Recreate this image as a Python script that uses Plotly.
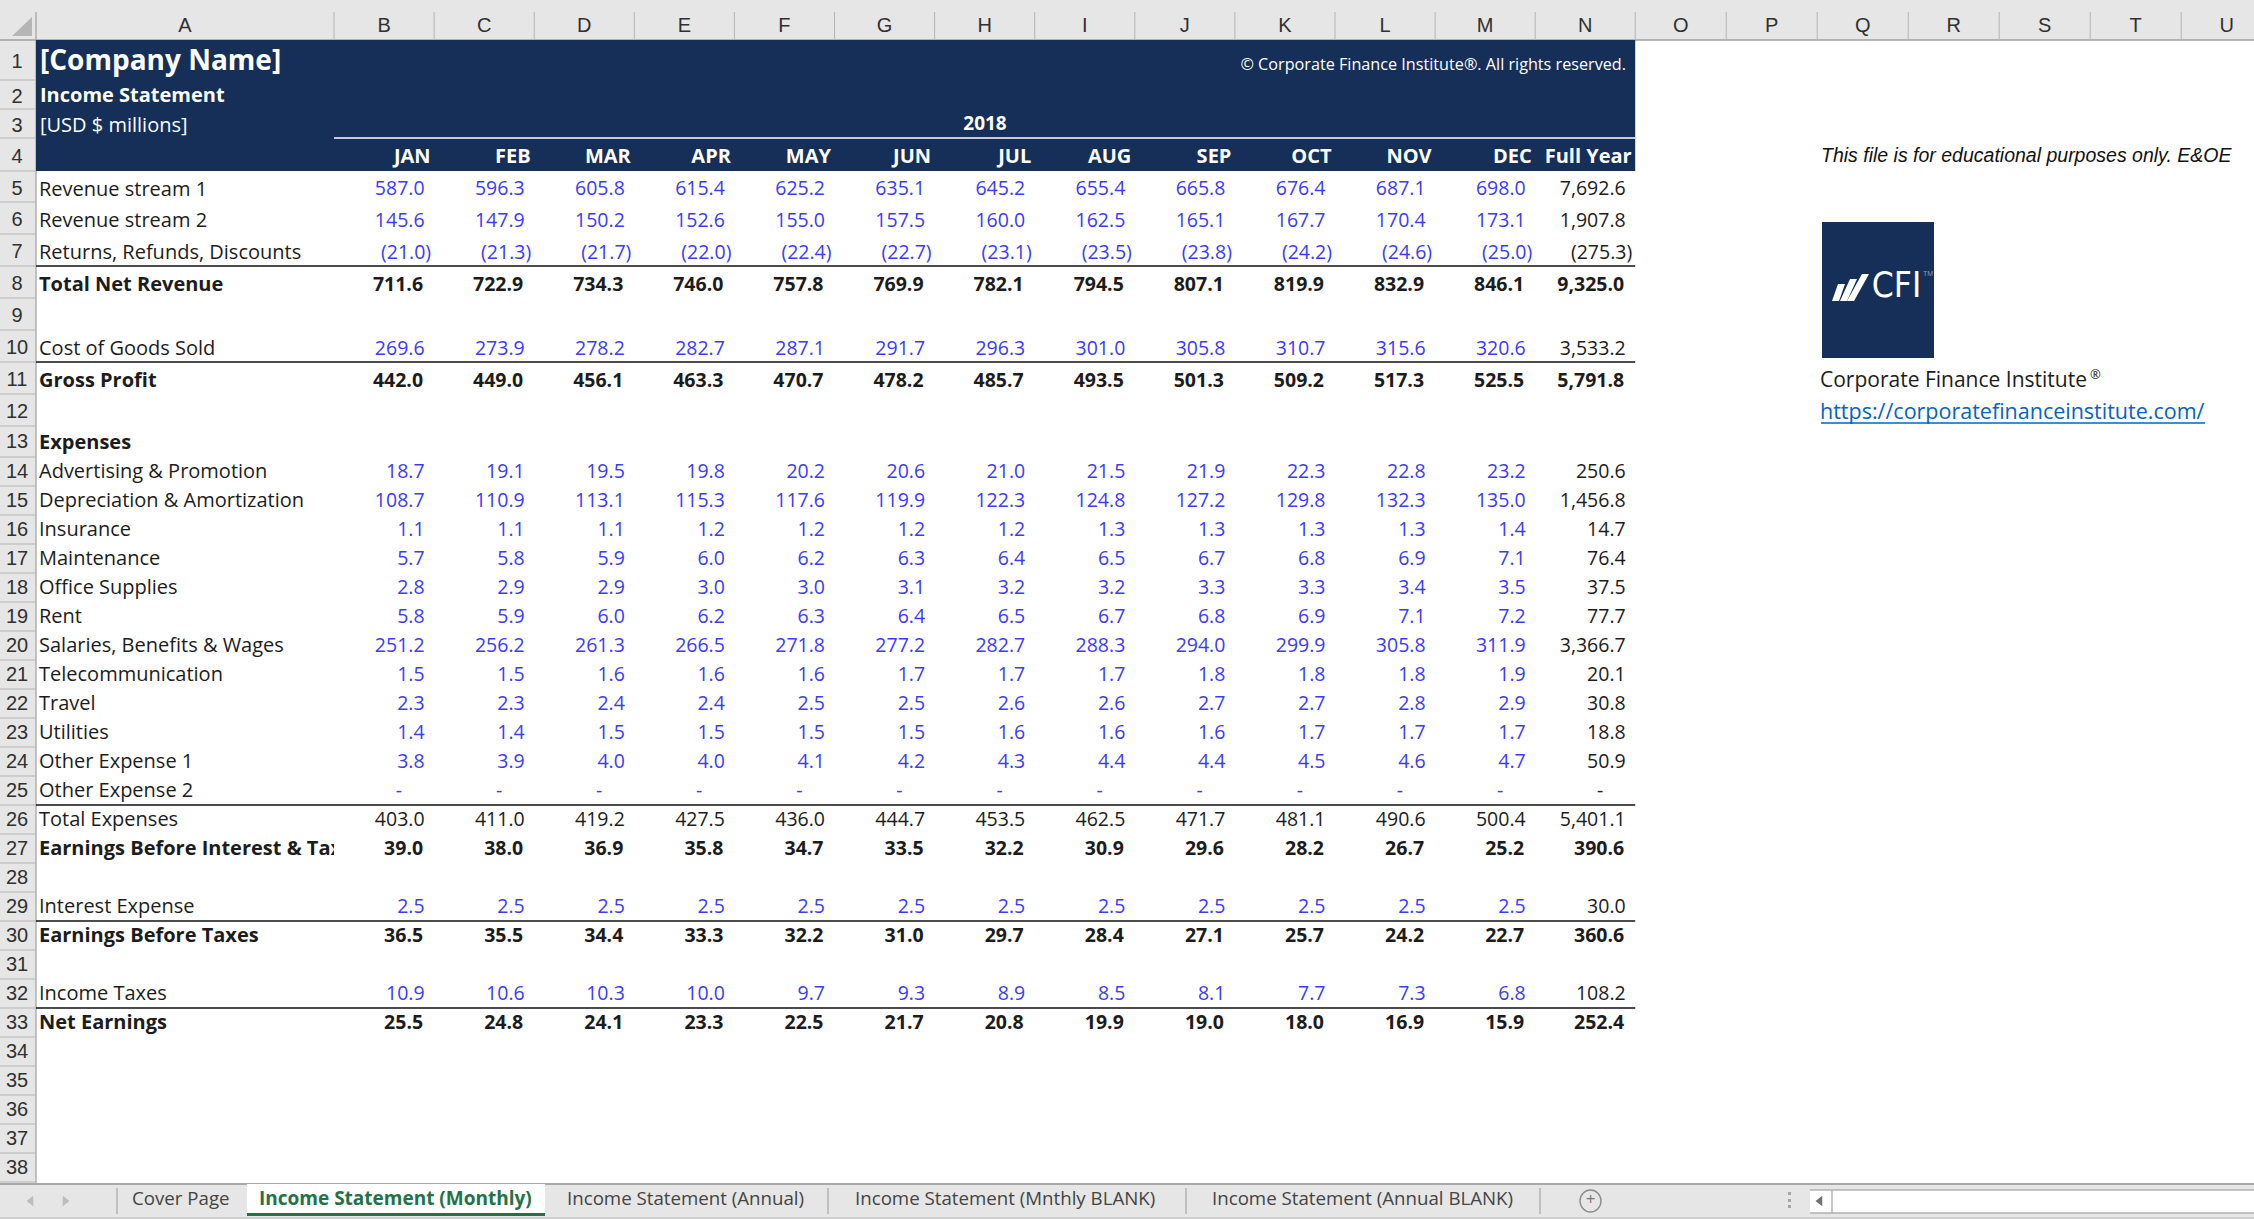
import plotly.graph_objects as go

W, H = 2254, 1219
NAVY = "#152f58"
BLUE = "#3c3cf5"
DARK = "#1c1c1c"
HEAD_GRAY = "#e6e6e6"
GRID_GRAY = "#b4b4b4"
BODY_FONT = "Open Sans"
HEAD_FONT = "Liberation Sans"

# sheet geometry, pixels
col_letters = list("ABCDEFGHIJKLMNOPQRSTU")
col_widths = [298] + [100.1] * 12 + [100] + [91] * 7
x_edges = [36]
for w in col_widths:
    x_edges.append(x_edges[-1] + w)
col_right = dict(zip(col_letters, x_edges[1:]))

row_heights = [40, 29, 29, 33, 31, 32, 32, 32, 32, 32, 32, 32, 31] + [29] * 25
y_edges = [40]
for h in row_heights:
    y_edges.append(y_edges[-1] + h)


def row_mid(n):
    return (y_edges[n - 1] + y_edges[n]) / 2


def label_y(n):
    return row_mid(n) + (4 if n < 13 else 1)


def value_y(n):
    return row_mid(n) + (4 if n < 13 else 2)


months = ["JAN", "FEB", "MAR", "APR", "MAY", "JUN", "JUL", "AUG", "SEP", "OCT", "NOV", "DEC"]

# row number, label, style, 12 months, full year
rows = [
    (5, "Revenue stream 1", "input", [587.0, 596.3, 605.8, 615.4, 625.2, 635.1, 645.2, 655.4, 665.8, 676.4, 687.1, 698.0], 7692.6),
    (6, "Revenue stream 2", "input", [145.6, 147.9, 150.2, 152.6, 155.0, 157.5, 160.0, 162.5, 165.1, 167.7, 170.4, 173.1], 1907.8),
    (7, "Returns, Refunds, Discounts", "input", [-21.0, -21.3, -21.7, -22.0, -22.4, -22.7, -23.1, -23.5, -23.8, -24.2, -24.6, -25.0], -275.3),
    (8, "Total Net Revenue", "bold", [711.6, 722.9, 734.3, 746.0, 757.8, 769.9, 782.1, 794.5, 807.1, 819.9, 832.9, 846.1], 9325.0),
    (10, "Cost of Goods Sold", "input", [269.6, 273.9, 278.2, 282.7, 287.1, 291.7, 296.3, 301.0, 305.8, 310.7, 315.6, 320.6], 3533.2),
    (11, "Gross Profit", "bold", [442.0, 449.0, 456.1, 463.3, 470.7, 478.2, 485.7, 493.5, 501.3, 509.2, 517.3, 525.5], 5791.8),
    (14, "Advertising & Promotion", "input", [18.7, 19.1, 19.5, 19.8, 20.2, 20.6, 21.0, 21.5, 21.9, 22.3, 22.8, 23.2], 250.6),
    (15, "Depreciation & Amortization", "input", [108.7, 110.9, 113.1, 115.3, 117.6, 119.9, 122.3, 124.8, 127.2, 129.8, 132.3, 135.0], 1456.8),
    (16, "Insurance", "input", [1.1, 1.1, 1.1, 1.2, 1.2, 1.2, 1.2, 1.3, 1.3, 1.3, 1.3, 1.4], 14.7),
    (17, "Maintenance", "input", [5.7, 5.8, 5.9, 6.0, 6.2, 6.3, 6.4, 6.5, 6.7, 6.8, 6.9, 7.1], 76.4),
    (18, "Office Supplies", "input", [2.8, 2.9, 2.9, 3.0, 3.0, 3.1, 3.2, 3.2, 3.3, 3.3, 3.4, 3.5], 37.5),
    (19, "Rent", "input", [5.8, 5.9, 6.0, 6.2, 6.3, 6.4, 6.5, 6.7, 6.8, 6.9, 7.1, 7.2], 77.7),
    (20, "Salaries, Benefits & Wages", "input", [251.2, 256.2, 261.3, 266.5, 271.8, 277.2, 282.7, 288.3, 294.0, 299.9, 305.8, 311.9], 3366.7),
    (21, "Telecommunication", "input", [1.5, 1.5, 1.6, 1.6, 1.6, 1.7, 1.7, 1.7, 1.8, 1.8, 1.8, 1.9], 20.1),
    (22, "Travel", "input", [2.3, 2.3, 2.4, 2.4, 2.5, 2.5, 2.6, 2.6, 2.7, 2.7, 2.8, 2.9], 30.8),
    (23, "Utilities", "input", [1.4, 1.4, 1.5, 1.5, 1.5, 1.5, 1.6, 1.6, 1.6, 1.7, 1.7, 1.7], 18.8),
    (24, "Other Expense 1", "input", [3.8, 3.9, 4.0, 4.0, 4.1, 4.2, 4.3, 4.4, 4.4, 4.5, 4.6, 4.7], 50.9),
    (25, "Other Expense 2", "input", [0] * 12, 0),
    (26, "Total Expenses", "plain", [403.0, 411.0, 419.2, 427.5, 436.0, 444.7, 453.5, 462.5, 471.7, 481.1, 490.6, 500.4], 5401.1),
    (27, "Earnings Before Interest & Taxes", "bold", [39.0, 38.0, 36.9, 35.8, 34.7, 33.5, 32.2, 30.9, 29.6, 28.2, 26.7, 25.2], 390.6),
    (29, "Interest Expense", "input", [2.5] * 12, 30.0),
    (30, "Earnings Before Taxes", "bold", [36.5, 35.5, 34.4, 33.3, 32.2, 31.0, 29.7, 28.4, 27.1, 25.7, 24.2, 22.7], 360.6),
    (32, "Income Taxes", "input", [10.9, 10.6, 10.3, 10.0, 9.7, 9.3, 8.9, 8.5, 8.1, 7.7, 7.3, 6.8], 108.2),
    (33, "Net Earnings", "bold", [25.5, 24.8, 24.1, 23.3, 22.5, 21.7, 20.8, 19.9, 19.0, 18.0, 16.9, 15.9], 252.4),
]

fig = go.Figure()


def add_text(xs, ys, texts, size, color, pos, family=BODY_FONT, weight=400, style="normal"):
    fig.add_trace(
        go.Scatter(
            x=xs,
            y=ys,
            text=texts,
            mode="text",
            textposition=pos,
            textfont=dict(size=size, color=color, family=family, weight=weight, style=style),
            hoverinfo="skip",
            showlegend=False,
        )
    )


def add_rect(x0, y0, x1, y1, color, layer="below"):
    fig.add_shape(type="rect", x0=x0, y0=y0, x1=x1, y1=y1, fillcolor=color, line_width=0, layer=layer)


def add_line(x0, y0, x1, y1, color, width=1.4):
    fig.add_shape(type="line", x0=x0, y0=y0, x1=x1, y1=y1, line=dict(color=color, width=width), layer="below")


def fmt(v):
    if v == 0:
        return "-"
    if v < 0:
        return f"({abs(v):,.1f})"
    return f"{v:,.1f}"


def cell_x(v, right, bold):
    # number format leaves a gap for the closing bracket
    if v == 0:
        return right - 32
    if v < 0:
        return right - 3
    return right - (11 if bold else 9.5)


# window chrome
add_rect(0, 0, W, 40, HEAD_GRAY)
add_rect(0, 40, 36, 1184, HEAD_GRAY)
add_rect(0, 1184, W, H, HEAD_GRAY)
add_line(0, 40, W, 40, "#a0a0a0", 1.6)
add_line(36, 12, 36, 1184, "#a0a0a0", 1.2)
add_line(0, 1184, W, 1184, "#a8a8a8", 2)
for x in x_edges[1:]:
    add_line(x, 12, x, 40, GRID_GRAY, 1)
for y in y_edges[1:]:
    add_line(0, y, 36, y, GRID_GRAY, 1.2)
fig.add_shape(type="path", path="M 32 17 L 32 36 L 12 36 Z", fillcolor="#b5b5b5", line_width=0, layer="below")

# navy banner
banner_right = col_right["N"]
add_rect(36, 40, banner_right, y_edges[4], NAVY)
add_line(x_edges[1], y_edges[3], banner_right, y_edges[3], "#ffffff", 1.6)

# total rules
for n in [7, 10, 25, 29, 32]:
    add_line(36, y_edges[n], banner_right, y_edges[n], "#111111", 1.4)

# headers
add_text(
    [(a + b) / 2 for a, b in zip(x_edges[:-1], x_edges[1:])],
    [26.5] * len(col_letters),
    col_letters,
    20,
    "#303030",
    "middle center",
    family=HEAD_FONT,
)
add_text(
    [17] * 38,
    [row_mid(n) + (3 if n < 13 else 1) for n in range(1, 39)],
    [str(n) for n in range(1, 39)],
    20,
    "#303030",
    "middle center",
    family=HEAD_FONT,
)

# banner text
add_text([40], [row_mid(1) + 3], ["[Company Name]"], 28, "#ffffff", "middle right", weight=700)
add_text([40], [row_mid(2) + 2], ["Income Statement"], 20, "#ffffff", "middle right", weight=700)
add_text([40], [row_mid(3) + 3], ["[USD $ millions]"], 20, "#ffffff", "middle right")
add_text(
    [1626],
    [66],
    ["© Corporate Finance Institute®. All rights reserved."],
    16.2,
    "#ffffff",
    "middle left",
)
add_text([985], [125.5], ["2018"], 19, "#ffffff", "middle center", weight=700)
add_text(
    [col_right[c] - 3.5 for c in col_letters[1:14]],
    [row_mid(4) + 3] * 13,
    months + ["Full Year"],
    20,
    "#ffffff",
    "middle left",
    weight=700,
)

# labels
add_text(
    [39] * len(rows),
    [label_y(r[0]) for r in rows],
    [r[1] for r in rows],
    [20] * len(rows),
    [DARK] * len(rows),
    "middle right",
    weight=[700 if r[2] == "bold" else 400 for r in rows],
)
add_text([39], [row_mid(13) + 2.5], ["Expenses"], 20, DARK, "middle right", weight=700)

# cells
for n, label, kind, vals, total in rows:
    all_vals = vals + [total]
    rights = [col_right[c] for c in col_letters[1:14]]
    xs = [cell_x(v, r, kind == "bold") for v, r in zip(all_vals, rights)]
    ys = [value_y(n)] * 13
    texts = [fmt(v) for v in all_vals]
    weight = 700 if kind == "bold" else 400
    month_color = BLUE if kind == "input" else DARK
    add_text(xs[:12], ys[:12], texts[:12], 19.5, month_color, "middle left", weight=weight)
    add_text(xs[12:], ys[12:], texts[12:], 19.5, DARK, "middle left", weight=weight)

# clip the long label at the edge of column A
add_rect(x_edges[1], y_edges[26] + 1, x_edges[1] + 45, y_edges[27] - 1, "#ffffff", layer="above")

# notes on the right
add_text([1821], [157], ["This file is for educational purposes only. E&OE"], 19.5, "#111111", "middle right", family=HEAD_FONT, style="italic")
add_rect(1822, 222, 1934, 358, NAVY)
# logo bars: bottom x, top x, top y
for bx, tx, ty in [(1832, 1838, 284), (1840, 1850, 279), (1847, 1862, 274)]:
    fig.add_shape(
        type="path",
        path=f"M {bx} 301 L {bx + 7} 301 L {tx + 7} {ty} L {tx} {ty} Z",
        fillcolor="#ffffff",
        line_width=0,
        layer="below",
    )
add_text([1896.5], [288], ["CFI"], 35, "#ffffff", "middle center", family="DejaVu Sans Condensed")
add_text([1928], [274], ["TM"], 7, "#8d9db5", "middle center", family=HEAD_FONT)
add_text([1820], [381.5], ["Corporate Finance Institute"], 21, DARK, "middle right")
add_text([2090], [376], ["®"], 13, DARK, "middle right")
add_text([1820], [414], ["https://corporatefinanceinstitute.com/"], 21.5, "#0563c1", "middle right")
add_line(1821, 423, 2205, 423, "#0563c1", 1.6)

# sheet tabs
tab_x = [132, 567, 855, 1212]
tab_names = ["Cover Page", "Income Statement (Annual)", "Income Statement (Mnthly BLANK)", "Income Statement (Annual BLANK)"]
add_rect(247, 1184, 545, 1216, "#ffffff")
add_line(247, 1214.5, 545, 1214.5, "#217346", 3)
for x in [117, 828, 1186, 1540]:
    add_line(x, 1188, x, 1214, "#9a9a9a", 1)
add_text(tab_x, [1200.5] * 4, tab_names, 18.7, "#444444", "middle right")
add_text([259], [1200.5], ["Income Statement (Monthly)"], 19, "#217346", "middle right", weight=700)
fig.add_trace(
    go.Scatter(
        x=[31, 65],
        y=[1201, 1201],
        mode="markers",
        marker=dict(symbol=["triangle-left", "triangle-right"], size=9, color="#bdbdbd"),
        hoverinfo="skip",
        showlegend=False,
    )
)
fig.add_shape(type="circle", x0=1580, y0=1190, x1=1601, y1=1212, line=dict(color="#8c8c8c", width=1.4), layer="below")
add_text([1590.5], [1200.5], ["+"], 17, "#777777", "middle center")
for y in [1194, 1201, 1207]:
    add_rect(1788, y - 2, 1791, y + 1, "#a6a6a6")
add_rect(1810, 1190, W, 1213, "#ffffff")
add_line(1810, 1190, W, 1190, "#b0b0b0", 1.4)
add_line(1810, 1213, W, 1213, "#b0b0b0", 1.4)
add_line(1832, 1190, 1832, 1213, "#b0b0b0", 1.4)
add_line(0, 1218, W, 1218, "#c4c4c4", 1.4)
fig.add_trace(
    go.Scatter(
        x=[1820],
        y=[1201],
        mode="markers",
        marker=dict(symbol="triangle-left", size=9, color="#707070"),
        hoverinfo="skip",
        showlegend=False,
    )
)

fig.update_layout(
    width=W,
    height=H,
    margin=dict(l=0, r=0, t=0, b=0),
    paper_bgcolor="#ffffff",
    plot_bgcolor="#ffffff",
    xaxis=dict(visible=False, range=[0, W], fixedrange=True),
    yaxis=dict(visible=False, range=[H, 0], fixedrange=True),
)

fig.write_html(
    "out.html",
    config={"displayModeBar": False},
    post_script="document.body.style.margin='0';document.body.style.overflow='hidden';",
)
